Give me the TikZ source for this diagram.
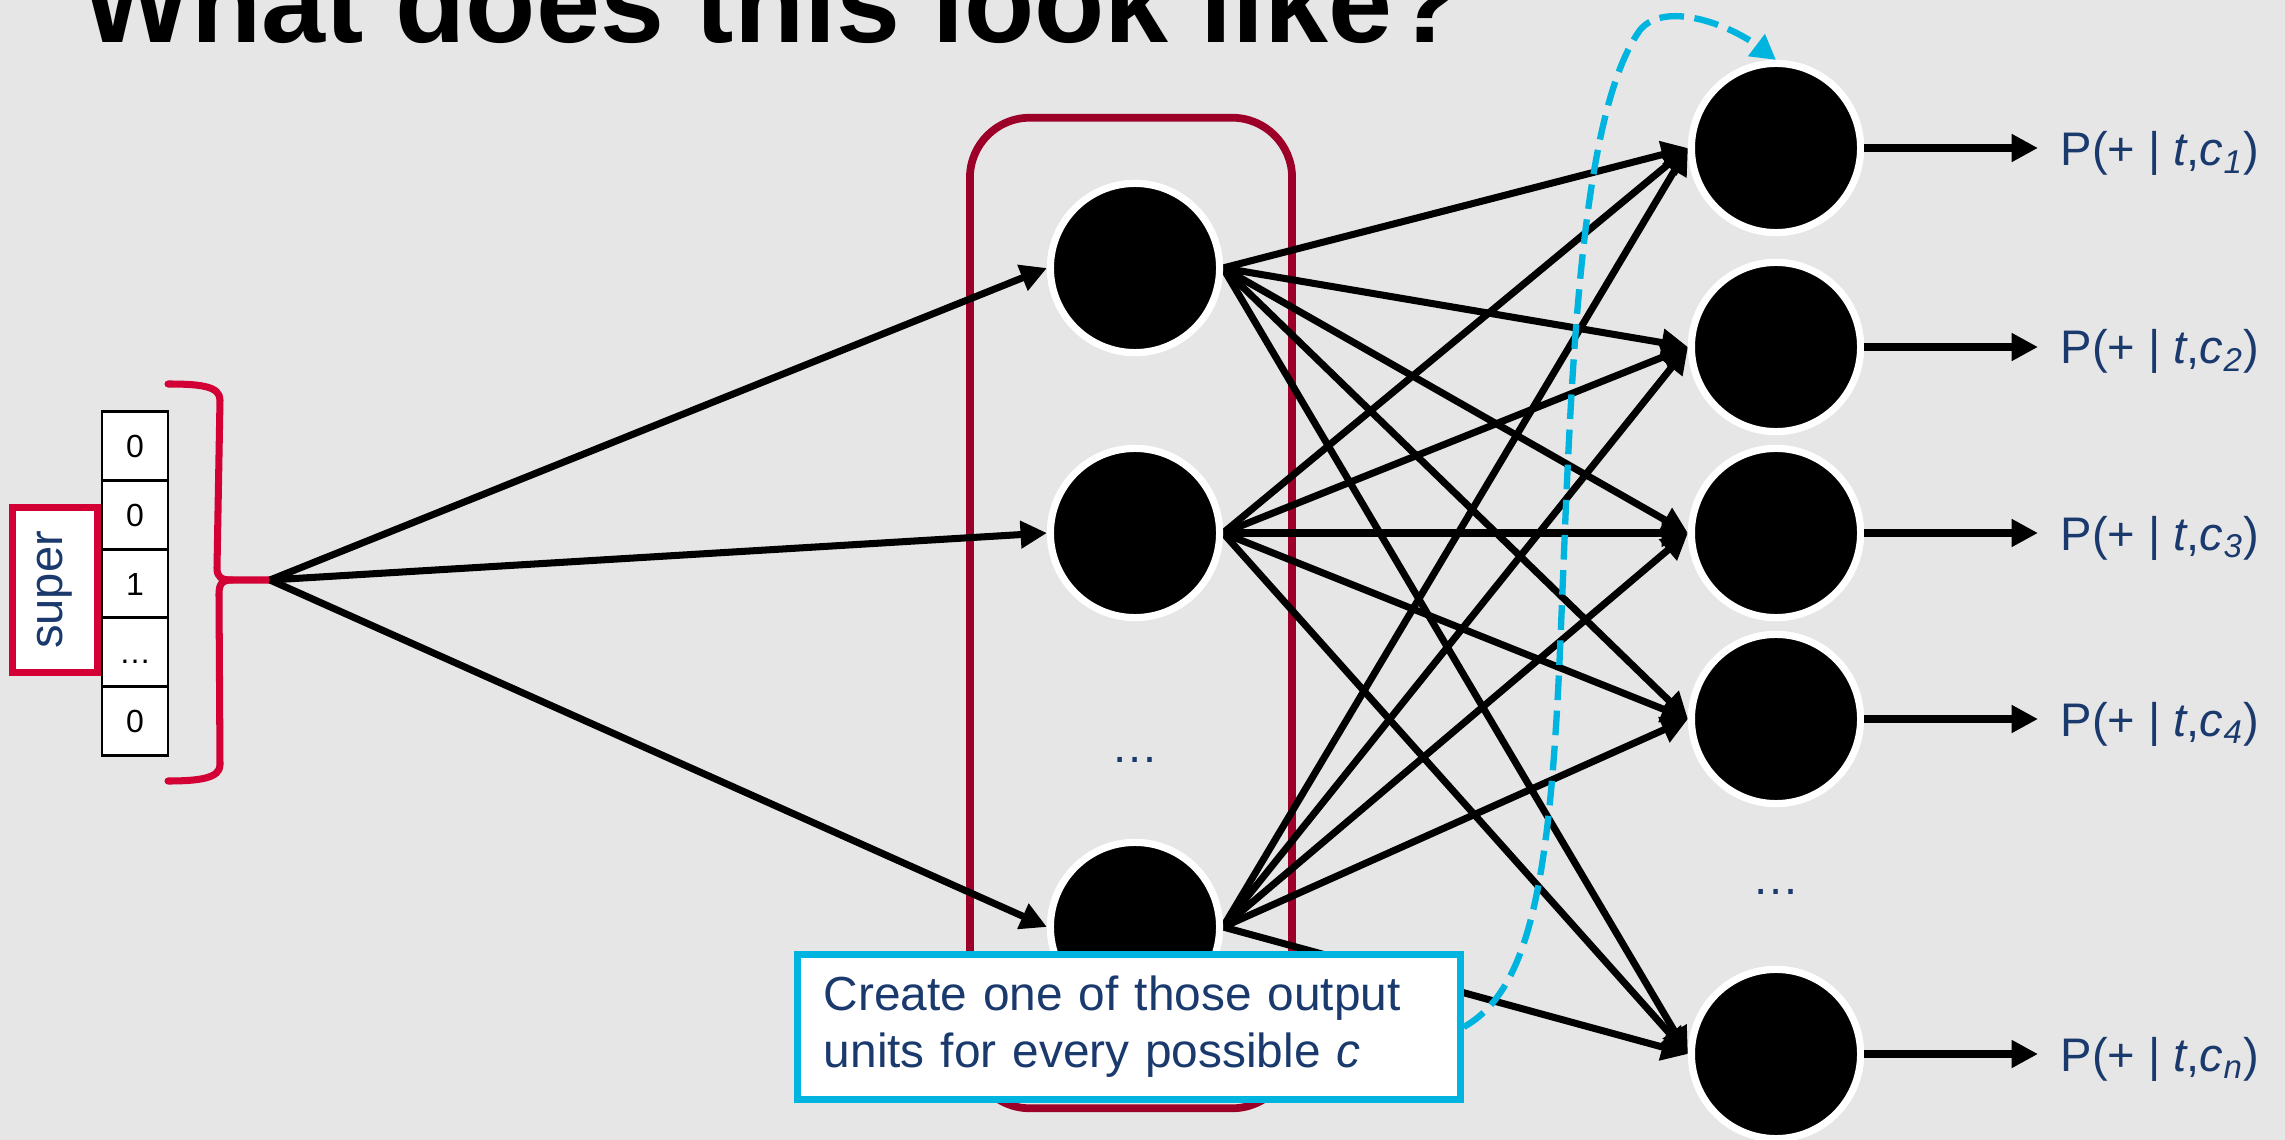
\documentclass[tikz,border=0pt]{standalone}
\usepackage{fontspec}
\setmainfont{Liberation Sans}
\usetikzlibrary{arrows.meta}
\definecolor{bgc}{HTML}{E6E6E6}
\definecolor{txtblue}{HTML}{1A3A6E}
\definecolor{braceRed}{HTML}{D20035}
\definecolor{burg}{HTML}{9C0028}
\definecolor{cyanc}{HTML}{00B4E0}
\begin{document}
\begin{tikzpicture}[x=0.01cm,y=-0.01cm,
  neuron/.style={circle, fill=black, draw=white, line width=2pt, minimum size=1.69cm, inner sep=0pt},
  conn/.style={line width=2pt, -{Triangle[length=7.5pt,width=7.5pt]}},
  cell/.style={draw=black, line width=0.8pt, fill=white, minimum width=0.66cm, minimum height=0.686cm, inner sep=0pt, text height=6.6pt, text depth=0pt, font=\fontsize{9.1pt}{11pt}\selectfont},
  lbl/.style={text=txtblue, font=\fontsize{13.4pt}{16pt}\selectfont, inner sep=0pt, anchor=base west},
  dotsnode/.style={text=txtblue, font=\fontsize{13.4pt}{16pt}\selectfont, inner sep=0pt, anchor=base},
  callout/.style={draw=cyanc, line width=2pt, fill=white, text=txtblue, font=\fontsize{13.6pt}{16.2pt}\selectfont, inner xsep=0.26cm, inner ysep=0pt, minimum width=6.62cm, minimum height=1.44cm, text width=6.1cm, align=left},
  hidbox/.style={draw=burg, line width=2.2pt, rounded corners=0.6cm, minimum width=3.22cm, minimum height=9.9cm, inner sep=0pt},
  bracestyle/.style={draw=braceRed, line width=2pt, line cap=round, line join=round},
  wordbox/.style={draw=braceRed, line width=2pt, fill=white, text=txtblue, rotate=90, minimum width=1.65cm, minimum height=0.84cm, inner sep=0pt, font=\fontsize{13.4pt}{16pt}\selectfont},
  dasharrow/.style={draw=cyanc, line width=1.8pt, dash pattern=on 7pt off 3pt, -{Triangle[length=7pt,width=7.5pt]}},
]
\useasboundingbox (0,0) rectangle (2285,1140);
\fill[bgc] (0,0) rectangle (2285,1140);

% title
\node[anchor=base west, inner sep=0pt, font=\fontsize{32.7pt}{36pt}\selectfont\bfseries] (title) at (82,43) {What does this look like?};

% input vector
\node[cell] (v1) at (135,446) {0};
\node[cell] (v2) at (135,515) {0};
\node[cell] (v3) at (135,584) {1};
\node[cell] (v4) at (135,652) {…};
\node[cell] (v5) at (135,721) {0};

% word box
\node[wordbox] (word) at (55,590) {super};

% brace
\draw[bracestyle] (168,384) .. controls (200,384) and (220,386) .. (220,400) -- (217,568) .. controls (217,578) and (222,580) .. (232,580) -- (270,580);
\draw[bracestyle] (232,580) .. controls (222,580) and (219,584) .. (219,594) -- (220,765) .. controls (220,778) and (200,781) .. (168,781);
\coordinate (bt) at (270,580);

% hidden layer box
\node[hidbox] (hid) at (1131,613) {};

% hidden and output nodes
\node[neuron] (h1) at (1135,268) {};
\node[neuron] (h2) at (1135,533) {};
\node[neuron] (h3) at (1135,927) {};
\node[dotsnode] (hdots) at (1135,762) {…};

\node[neuron] (o1) at (1776,148) {};
\node[neuron] (o2) at (1776,347) {};
\node[neuron] (o3) at (1776,533) {};
\node[neuron] (o4) at (1776,719) {};
\node[neuron] (o5) at (1776,1054) {};
\node[dotsnode] (odots) at (1776,894) {…};

% connections
\foreach \h in {h1,h2,h3} {
  \draw[conn] (bt) -- (\h.west);
  \foreach \o in {o1,o2,o3,o4,o5} {
    \draw[conn] (\h.east) -- (\o.west);
  }
}
% redraw nodes on top
\foreach \p in {(1135,268),(1135,533),(1135,927),(1776,148),(1776,347),(1776,533),(1776,719),(1776,1054)} {
  \node[neuron] at \p {};
}

% output labels
\node[lbl] (l1) at (2060,166) {P(+ | \textit{t},\textit{c}\textsubscript{\textit{1}})};
\node[lbl] (l2) at (2060,364) {P(+ | \textit{t},\textit{c}\textsubscript{\textit{2}})};
\node[lbl] (l3) at (2060,550) {P(+ | \textit{t},\textit{c}\textsubscript{\textit{3}})};
\node[lbl] (l4) at (2060,736) {P(+ | \textit{t},\textit{c}\textsubscript{\textit{4}})};
\node[lbl] (l5) at (2060,1071) {P(+ | \textit{t},\textit{c}\textsubscript{\textit{n}})};
\foreach \i in {1,...,5} {
  \draw[conn, shorten >=0.22cm] (o\i.east) -- (o\i.east -| l\i.west);
}

% callout
\node[callout] (call) at (1129,1027) {Create one of those output\\units for every possible \textit{c}};
\draw[dasharrow] (call.east) .. controls (1530,990) and (1550,880) .. (1560,650) .. controls (1570,420) and (1575,120) .. (1640,30) .. controls (1665,0) and (1730,25) .. (o1.north);
\end{tikzpicture}
\end{document}
